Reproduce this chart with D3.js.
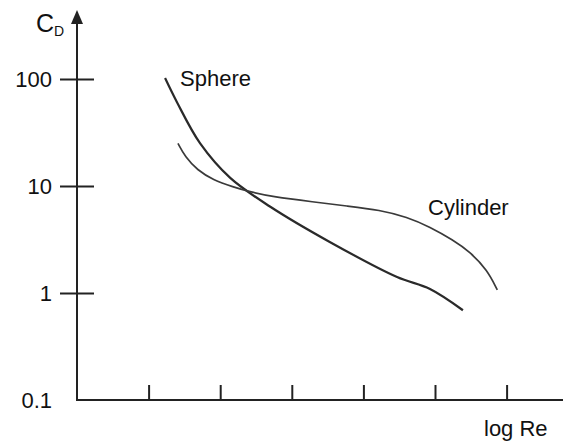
<!DOCTYPE html>
<html>
<head>
<meta charset="utf-8">
<script src="https://cdn.jsdelivr.net/npm/d3@7"></script>
<style>
	body { margin: 0; background: #fff; }
	svg { display: block; }
	text { font-family: "Liberation Sans", Arial, sans-serif; fill: #111; }
</style>
</head>
<body>
<div id="chart"><svg></svg></div>
<script>
// values (x = log Re, y = C_D)
const yTicks = [0.1, 1, 10, 100];
const xTicks = [1, 2, 3, 4, 5, 6];

const sphereLogRe = [1.23, 1.40, 1.72, 2.14, 2.70, 3.53, 4.47, 4.93, 5.39];
const sphereCd = [102, 60, 25, 11.9, 6.4, 3.0, 1.41, 1.09, 0.69];

const cylinderLogRe = [1.41, 1.51, 1.68, 1.90, 2.18, 2.42, 2.74, 3.30, 3.77, 4.23, 4.61, 4.93, 5.25, 5.49, 5.73, 5.87];
const cylinderCd = [25, 18.7, 14.1, 11.4, 9.8, 8.8, 7.9, 7.1, 6.5, 5.97, 5.13, 4.14, 3.13, 2.42, 1.64, 1.07];

const width = 566;
const height = 442;
const x0 = 77;
const yBase = 400;

const $svg = d3.select('svg').attr('width', width).attr('height', height);

const x = d3.scaleLinear().domain([0, 6]).range([x0, 506.6]);
const y = d3.scaleLog().domain([0.1, 100]).range([yBase, 79]);

// y axis
const $yAxis = $svg.append('g')
	.attr('transform', `translate(${x0},0)`)
	.call(d3.axisLeft(y).tickValues(yTicks).tickSize(17).tickPadding(8).tickFormat(d3.format('')));
$yAxis.select('.domain').remove();
$yAxis.selectAll('.tick line')
	.attr('x1', d => (d === 0.1 ? 0 : 17))
	.attr('x2', d => (d === 0.1 ? 0 : -17))
	.attr('stroke', '#222')
	.attr('stroke-width', 2);
$yAxis.selectAll('.tick text')
	.attr('font-size', 22)
	.attr('font-family', '"Liberation Sans", Arial, sans-serif')
	.attr('fill', '#111');

$svg.append('line')
	.attr('x1', x0).attr('x2', x0)
	.attr('y1', 20).attr('y2', yBase + 1)
	.attr('stroke', '#222').attr('stroke-width', 2);
$svg.append('path')
	.attr('d', `M${x0},10L${x0 - 6},24L${x0 + 6},24Z`)
	.attr('fill', '#222');

// x axis
const $xAxis = $svg.append('g')
	.attr('transform', `translate(0,${yBase})`)
	.call(d3.axisBottom(x).tickValues(xTicks).tickSize(-15).tickFormat(''));
$xAxis.select('.domain').remove();
$xAxis.selectAll('.tick line').attr('stroke', '#222').attr('stroke-width', 2);

$svg.append('line')
	.attr('x1', x0 - 1).attr('x2', 563)
	.attr('y1', yBase).attr('y2', yBase)
	.attr('stroke', '#222').attr('stroke-width', 2);

// curves
const line = d3.line()
	.x(d => x(d[0]))
	.y(d => y(d[1]))
	.curve(d3.curveCatmullRom.alpha(0.5));

$svg.append('path')
	.datum(d3.zip(sphereLogRe, sphereCd))
	.attr('d', line)
	.attr('fill', 'none')
	.attr('stroke', '#2a2a2a')
	.attr('stroke-width', 2.2);

$svg.append('path')
	.datum(d3.zip(cylinderLogRe, cylinderCd))
	.attr('d', line.curve(d3.curveBasis))
	.attr('fill', 'none')
	.attr('stroke', '#3a3a3a')
	.attr('stroke-width', 1.7);

// labels
$svg.append('text').attr('x', 180).attr('y', 86).attr('font-size', 22).text('Sphere');
$svg.append('text').attr('x', 428).attr('y', 215).attr('font-size', 22).text('Cylinder');
$svg.append('text').attr('x', 484).attr('y', 436).attr('font-size', 22).text('log Re');

const $cd = $svg.append('text').attr('x', 36).attr('y', 32).attr('font-size', 25);
$cd.append('tspan').text('C');
$cd.append('tspan').attr('font-size', 14).attr('dy', 4).text('D');
</script>
</body>
</html>
